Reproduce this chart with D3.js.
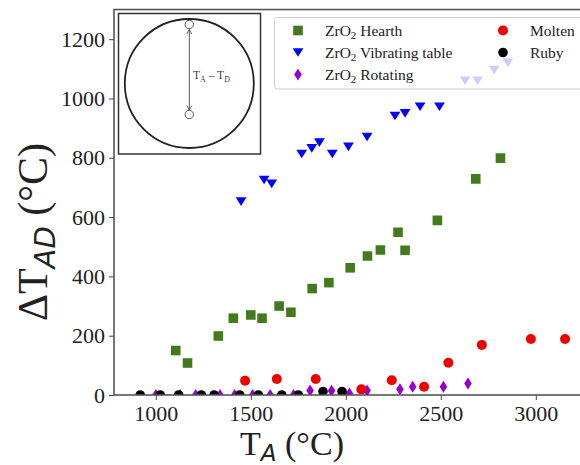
<!DOCTYPE html>
<html><head><meta charset="utf-8">
<script src="https://cdn.jsdelivr.net/npm/d3@7"></script>
<style>body{margin:0;background:#fff}svg{display:block}</style>
</head><body>
<script>
// ---- data ----
const hearthX = [1105,1167,1329,1408,1500,1559,1649,1711,1823,1911,2023,2114,2182,2275,2312,2482,2684,2814];
const hearthY = [150,108,199,259,270,259,300,279,359,379,429,469,489,549,488,589,729,799];
const vibX = [1449,1570,1610,1768,1821,1861,1929,2014,2112,2259,2312,2391,2493,2628,2693,2781,2853];
const vibY = [652,725,712,813,832,851,813,837,870,941,950,972,972,1060,1060,1096,1120];
const rotX = [1000,1128,1210,1338,1415,1510,1602,1725,1812,1925,2019,2112,2285,2352,2514,2643];
const rotY = [0,0,0,0,0,0,0,0,15,14,5,15,19,28,28,39];
const moltenX = [1470,1637,1842,2082,2242,2412,2540,2716,2974,3154];
const moltenY = [48,54,54,19,50,28,109,169,189,189];
const rubyX = [918,1023,1120,1240,1307,1442,1540,1663,1750,1880,1980];
const rubyY = [0,0,0,0,0,0,0,0,0,12,12];
const xTicks = [1000,1500,2000,2500,3000];
const yTicks = [0,200,400,600,800,1000,1200];
const legendNames = ["Hearth","Vibrating table","Rotating","Molten","Ruby"];

const W = 580, H = 465;
const svg = d3.select("body").append("svg").attr("width", W).attr("height", H);
const L = 114, R = 592.8, T = 9.55, B = 395;
const x = d3.scaleLinear().domain([780, 3300]).range([L, R]);
const y = d3.scaleLinear().domain([0, 1300]).range([B, T]);
const serif = "'Liberation Serif','DejaVu Serif',serif";

svg.append("defs").append("clipPath").attr("id","clip")
  .append("rect").attr("x",L).attr("y",T).attr("width",R-L).attr("height",B-T);

// symbols
const sq = s => `M${-s},${-s}H${s}V${s}H${-s}Z`;
const triDown = s => `M${-s},${-s*0.8}L${s},${-s*0.8}L0,${s*0.8}Z`;
const diamond = (w,h) => `M0,${-h}L${w},0L0,${h}L${-w},0Z`;
const styles = [
  {color:"#437a1e", path: sq(4.8)},
  {color:"#0000ff", path: triDown(5.4)},
  {color:"#9400d3", path: diamond(3.8,6)},
  {color:"#ee0000", path: null, r:5},
  {color:"#000000", path: null, r:4.8}
];
const series = [[hearthX,hearthY],[vibX,vibY],[rotX,rotY],[moltenX,moltenY],[rubyX,rubyY]];

const plot = svg.append("g").attr("clip-path","url(#clip)");
series.forEach(([xs,ys],i)=>{
  const st = styles[i];
  const pts = xs.map((v,j)=>[v,ys[j]]);
  const g = plot.append("g");
  if (st.path) {
    g.selectAll("path").data(pts).join("path")
      .attr("d", st.path)
      .attr("transform", d=>`translate(${x(d[0])},${y(d[1])})`)
      .attr("fill", st.color);
  } else {
    g.selectAll("circle").data(pts).join("circle")
      .attr("cx", d=>x(d[0])).attr("cy", d=>y(d[1])).attr("r", st.r)
      .attr("fill", st.color);
  }
});

// axes
const xAxis = d3.axisBottom(x).tickValues(xTicks).tickSize(5).tickPadding(4).tickFormat(d3.format("d"));
const yAxis = d3.axisLeft(y).tickValues(yTicks).tickSize(5).tickPadding(4).tickFormat(d3.format("d"));
const gx = svg.append("g").attr("transform",`translate(0,${B})`).call(xAxis);
const gy = svg.append("g").attr("transform",`translate(${L},0)`).call(yAxis);
[gx,gy].forEach(g=>{
  g.select(".domain").remove();
  g.selectAll(".tick line").attr("stroke","#444").attr("stroke-width",1);
  g.selectAll(".tick text").attr("font-family",serif).attr("font-size",22).attr("fill","#222");
});
gx.selectAll(".tick text").attr("dy","0.75em");

// frame
svg.append("rect").attr("x",L).attr("y",T).attr("width",R-L).attr("height",B-T)
  .attr("fill","none").attr("stroke","#555").attr("stroke-width",1.6);

// inset
const ins = svg.append("g");
ins.append("rect").attr("x",118.5).attr("y",13.5).attr("width",142).attr("height",140.5)
  .attr("fill","#fff").attr("stroke","#333").attr("stroke-width",1.5);
ins.append("circle").attr("cx",189.3).attr("cy",83.5).attr("r",64.5)
  .attr("fill","none").attr("stroke","#222").attr("stroke-width",1.8);
ins.append("line").attr("x1",189.3).attr("x2",189.3).attr("y1",29.5).attr("y2",110)
  .attr("stroke","#444").attr("stroke-width",0.9);
ins.append("path").attr("d","M186.8,34L189.3,29.5L191.8,34M186.8,105.5L189.3,110L191.8,105.5")
  .attr("fill","none").attr("stroke","#444").attr("stroke-width",0.8);
[24.5,114.5].forEach(cy=>ins.append("circle").attr("cx",189.3).attr("cy",cy).attr("r",4.2)
  .attr("fill","#fff").attr("stroke","#444").attr("stroke-width",0.9));
const it = ins.append("text").attr("x",193).attr("y",79).attr("font-family",serif)
  .attr("font-size",11.5).attr("fill","#444");
it.append("tspan").text("T");
it.append("tspan").attr("font-size",8).attr("dy",2.5).text("A");
it.append("tspan").attr("dy",-2.5).text(" \u2013 T");
it.append("tspan").attr("font-size",8).attr("dy",2.5).text("D");

// legend
const lg = svg.append("g");
lg.append("rect").attr("x",274.5).attr("y",17.5).attr("width",340).attr("height",71.5).attr("rx",3)
  .attr("fill","#fff").attr("fill-opacity",0.8).attr("stroke","#ccc").attr("stroke-width",1);
const pos = [[298,30.5],[298,52.5],[298,74.5],[503,30.5],[503,52.5]];
legendNames.forEach((name,i)=>{
  const [px,py] = pos[i], st = styles[i];
  if (st.path) lg.append("path").attr("d",st.path).attr("transform",`translate(${px},${py})`).attr("fill",st.color);
  else lg.append("circle").attr("cx",px).attr("cy",py).attr("r",st.r).attr("fill",st.color);
  const t = lg.append("text").attr("x",px+27).attr("y",py+5).attr("font-family",serif)
    .attr("font-size",15.5).attr("fill","#222");
  if (i<3) {
    t.append("tspan").text("ZrO");
    t.append("tspan").attr("font-size",11).attr("dy",3).text("2");
    t.append("tspan").attr("dy",-3).text(" "+name);
  } else t.text(name);
});

// axis labels
const xl = svg.append("text").attr("x",292).attr("y",455).attr("text-anchor","middle")
  .attr("font-family",serif).attr("font-size",34).attr("fill","#222");
xl.append("tspan").text("T");
xl.append("tspan").attr("font-family","'DejaVu Sans',sans-serif").attr("font-style","italic")
  .attr("font-size",23).attr("dy",6).text("A");
xl.append("tspan").attr("dy",-6).text(" (\u00b0C)");

const yl = svg.append("text").attr("transform","translate(47,232) rotate(-90)").attr("text-anchor","middle")
  .attr("font-family",serif).attr("font-size",42).attr("fill","#222");
yl.append("tspan").text("\u0394T");
yl.append("tspan").attr("font-family","'DejaVu Sans',sans-serif").attr("font-style","italic")
  .attr("font-size",29).attr("dy",8).text("AD");
yl.append("tspan").attr("dy",-8).text(" (\u00b0C)");
</script>
</body></html>
